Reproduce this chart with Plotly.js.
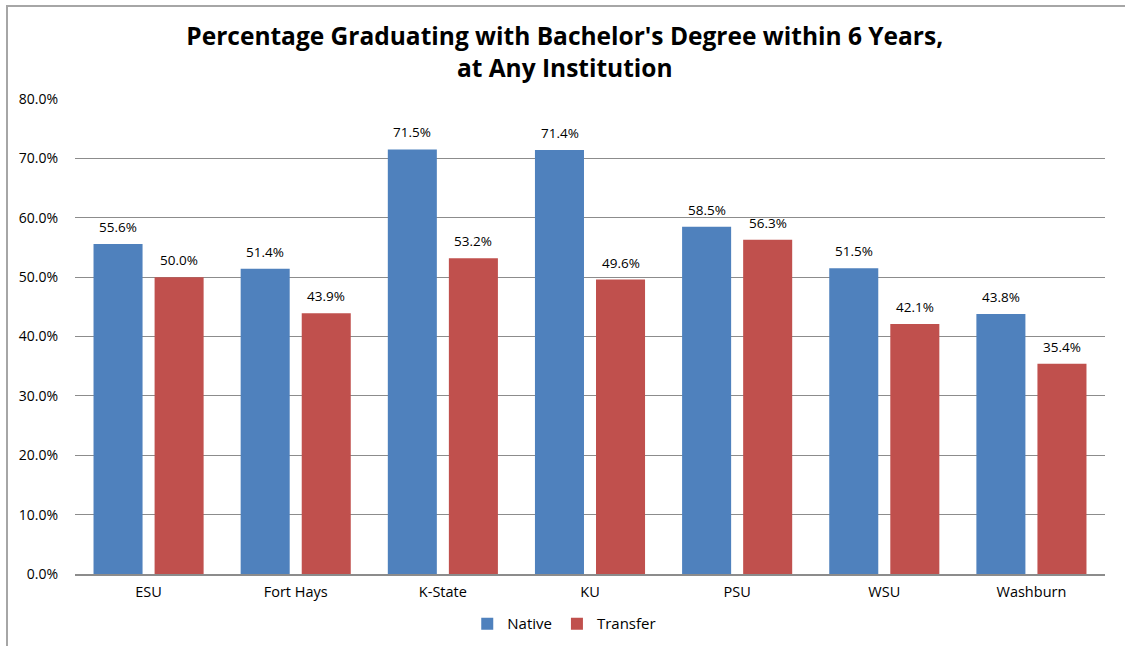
<!DOCTYPE html>
<html><head><meta charset="utf-8">
<script src="https://cdn.plot.ly/plotly-3.0.1.min.js"></script>
<style>
html,body{margin:0;padding:0;background:#fff;overflow:hidden;}
#frame{position:absolute;left:6px;top:5px;width:1140px;height:660px;border:2px solid #a6a6a6;box-sizing:border-box;}
#chart{position:absolute;left:0;top:0;width:1125px;height:646px;}
</style></head>
<body><div id="frame"></div><div id="chart"></div>
<script>
const categories = ["ESU","Fort Hays","K-State","KU","PSU","WSU","Washburn"];
const nativeVals = [55.6, 51.4, 71.5, 71.4, 58.5, 51.5, 43.8];
const transferVals = [50.0, 43.9, 53.2, 49.6, 56.3, 42.1, 35.4];
const yTicks = [0,10,20,30,40,50,60,70,80];

const font = "Open Sans, Lato, sans-serif";
const traces = [
  {type:"bar", name:"Native", x:categories, y:nativeVals, marker:{color:"#4F81BD"}, hoverinfo:"none"},
  {type:"bar", name:"Transfer", x:categories, y:transferVals, marker:{color:"#C0504D"}, hoverinfo:"none"}
];
const annotations = [];
categories.forEach((c,i)=>{
  annotations.push({x:c, y:nativeVals[i], xref:"x", yref:"y", text:nativeVals[i].toFixed(1)+"%", showarrow:false, yanchor:"bottom", xshift:-30.5, yshift:6, font:{family:font,size:13.5,color:"#000"}});
  annotations.push({x:c, y:transferVals[i], xref:"x", yref:"y", text:transferVals[i].toFixed(1)+"%", showarrow:false, yanchor:"bottom", xshift:30.5, yshift:6, font:{family:font,size:13.5,color:"#000"}});
});
const layout = {
  width:1125, height:646,
  margin:{l:75, r:20, t:99, b:72, autoexpand:false},
  paper_bgcolor:"rgba(0,0,0,0)", plot_bgcolor:"rgba(0,0,0,0)",
  title:{text:"Percentage Graduating with Bachelor's Degree within 6 Years,<br>at Any Institution", x:0.502, xref:"container", y:1 - 45/646, yref:"container", yanchor:"middle", font:{family:font, size:24.5, color:"#000", weight:"bold"}},
  barmode:"group", bargap:0.17, bargroupgap:0.197,
  xaxis:{type:"category", showgrid:false, showline:true, linecolor:"#8c8c8c", linewidth:2, ticks:"", ticklabelstandoff:4, tickfont:{family:font,size:14.5,color:"#000"}, fixedrange:true},
  yaxis:{range:[0,80], tickvals:yTicks, ticktext:yTicks.map(v=>v.toFixed(1)+"%"), showgrid:true, gridcolor:"#8c8c8c", gridwidth:1, zeroline:false, showline:false, ticks:"", ticklabelstandoff:16, tickfont:{family:font,size:14,color:"#000"}, fixedrange:true},
  legend:{orientation:"h", x:0.475, xanchor:"center", y:-0.105, yanchor:"middle", font:{family:font,size:15,color:"#000"}, itemwidth:30, traceorder:"normal"},
  annotations:annotations,
  showlegend:true
};
Plotly.newPlot("chart", traces, layout, {staticPlot:true});
</script></body></html>
